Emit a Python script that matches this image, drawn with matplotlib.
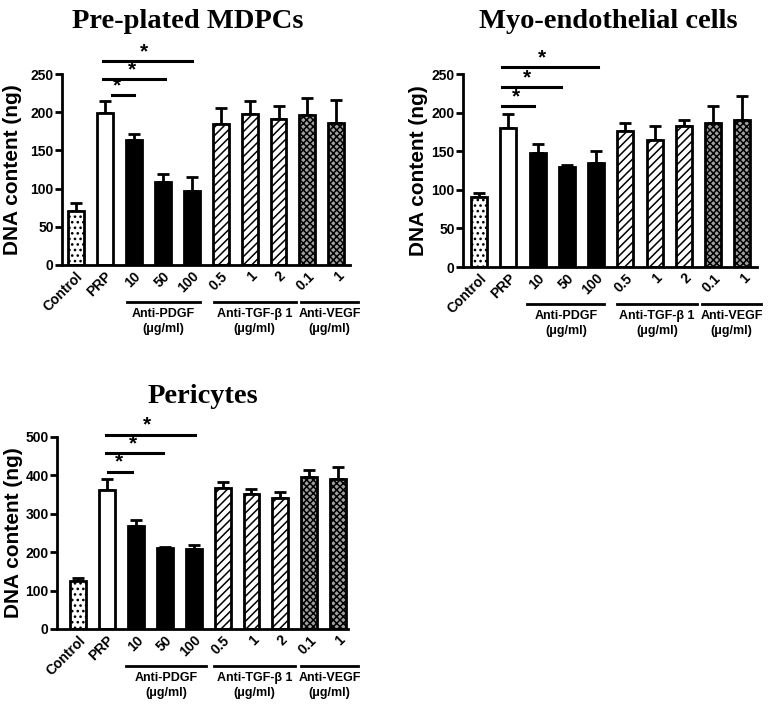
import matplotlib
matplotlib.use('Agg')
import matplotlib.pyplot as plt
import matplotlib.transforms as mtransforms
import numpy as np

plt.rcParams['font.family'] = ['Liberation Sans', 'DejaVu Sans']
plt.rcParams['font.weight'] = 'bold'
plt.rcParams['hatch.linewidth'] = 1.1

labels = ['Control', 'PRP', '10', '50', '100', '0.5', '1', '2', '0.1', '1']

mdpc_mean = [71, 199, 164, 109, 97, 185, 198, 191, 196, 186]
mdpc_sem = [10, 16, 7, 10, 18, 20, 17, 17, 23, 30]
myo_mean = [91, 180, 148, 129, 135, 176, 165, 182, 187, 191]
myo_sem = [5, 18, 11, 3, 15, 11, 17, 9, 21, 31]
peri_mean = [125, 363, 269, 210, 209, 367, 351, 341, 395, 390]
peri_sem = [7, 28, 14, 3, 10, 17, 14, 17, 20, 32]

groups = ['Anti-PDGF\n(\u03bcg/ml)', 'Anti-TGF-\u03b2 1\n(\u03bcg/ml)', 'Anti-VEGF\n(\u03bcg/ml)']

# bar styles: (facecolor, hatch)
styles = [('white', '...'), ('white', ''), ('black', ''), ('black', ''), ('black', ''),
          ('white', '////'), ('white', '////'), ('white', '////'),
          ('#a0a0a0', 'xxxxx'), ('#a0a0a0', 'xxxxx')]

W, H = 775, 707
fig = plt.figure(figsize=(W / 100, H / 100), dpi=100)


def make_ax(left, right, top, bottom):
    return fig.add_axes([left / W, 1 - bottom / H, (right - left) / W, (bottom - top) / H])


def panel(ax, mean, sem, title, title_xy, ymax, step, xlim, sig, grp, ylab_x):
    x = np.arange(len(mean))
    for i in range(len(mean)):
        fc, h = styles[i]
        ax.bar(x[i], mean[i], width=0.55, color=fc, edgecolor='black', linewidth=2,
               hatch=h, zorder=2)
    ax.errorbar(x, mean, yerr=[np.zeros(len(sem)), sem], fmt='none', ecolor='black',
                elinewidth=2, capsize=4, capthick=2, zorder=1)
    ax.set_xlim(*xlim)
    ax.set_ylim(0, ymax)
    ax.set_yticks(np.arange(0, ymax + 1, step))
    ax.spines['top'].set_visible(False)
    ax.spines['right'].set_visible(False)
    for s in ['left', 'bottom']:
        ax.spines[s].set_linewidth(2)
    ax.tick_params(axis='y', length=5, width=2, labelsize=10, pad=1)
    ax.tick_params(axis='x', length=0, pad=3)
    ax.set_xticks(x)
    ax.set_xticklabels(labels, rotation=45, ha='right', va='top', rotation_mode='anchor',
                       fontsize=10, fontweight='bold')
    ax.set_ylabel('DNA content (ng)', fontsize=15, fontweight='bold')
    ax.yaxis.set_label_coords(ylab_x, 0.5)
    fig.text(title_xy[0] / W, 1 - title_xy[1] / H, title, family='Liberation Serif',
             fontsize=20.5, fontweight='bold', ha='center', va='center')
    # significance bars
    for (x0, x1, y, xs) in sig:
        ax.plot([x0, x1], [y, y], color='black', lw=2.2, clip_on=False)
        ax.text(xs, y, '*', ha='center', va='bottom', fontsize=15, fontweight='bold')
    # group lines under tick labels
    tl = mtransforms.offset_copy(ax.get_xaxis_transform(), fig=fig, y=-37, units='dots')
    tt = mtransforms.offset_copy(ax.get_xaxis_transform(), fig=fig, y=-43, units='dots')
    for (x0, x1), g in zip(grp, groups):
        ax.plot([x0, x1], [0, 0], color='black', lw=2, transform=tl, clip_on=False)
        ax.text((x0 + x1) / 2, 0, g, transform=tt, ha='center', va='top', fontsize=9,
                fontweight='bold', linespacing=1.3)


ax1 = make_ax(62, 350, 74, 265)
panel(ax1, mdpc_mean, mdpc_sem, 'Pre-plated MDPCs', (188, 22), 250, 50, (-0.48, 9.47),
      [(0.92, 4.02, 267, 2.35), (0.92, 3.07, 243, 1.95), (1.24, 2.01, 222, 1.41)],
      [(1.76, 4.28), (4.76, 7.59), (7.76, 9.76)], -0.139)

ax2 = make_ax(463, 757, 74, 267)
panel(ax2, myo_mean, myo_sem, 'Myo-endothelial cells', (608, 22), 250, 50, (-0.55, 9.5),
      [(0.78, 4.08, 259, 2.14), (0.78, 2.79, 233, 1.62), (0.78, 1.88, 208, 1.25)],
      [(1.65, 4.28), (4.72, 7.46), (7.62, 9.64)], -0.119)

ax3 = make_ax(57, 348, 437, 629)
panel(ax3, peri_mean, peri_sem, 'Pericytes', (203, 397), 500, 100, (-0.73, 9.34),
      [(0.96, 4.04, 506, 2.37), (0.96, 2.94, 458, 1.9), (1.04, 1.88, 410, 1.43)],
      [(1.67, 4.44), (4.71, 7.5), (7.73, 9.69)], -0.117)

fig.savefig('out.png', dpi=100)
